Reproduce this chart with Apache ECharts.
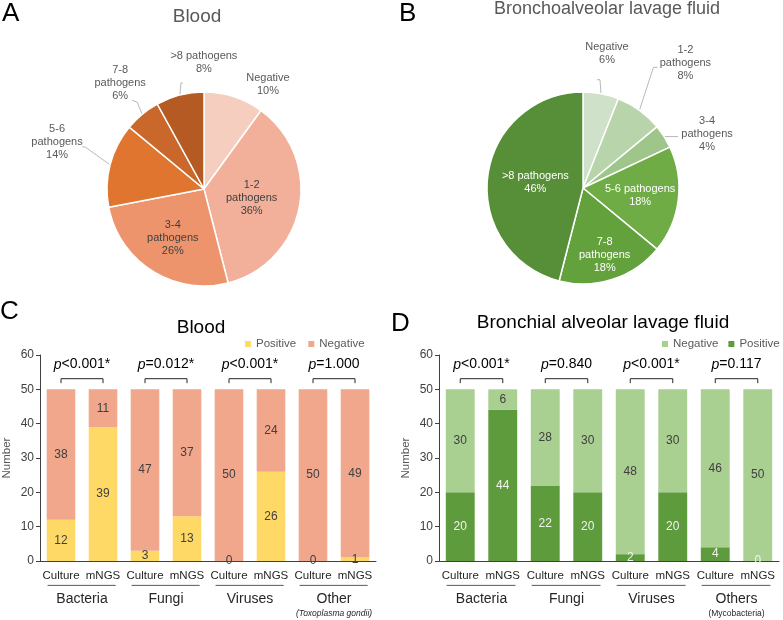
<!DOCTYPE html>
<html><head><meta charset="utf-8">
<script src="https://cdn.jsdelivr.net/npm/echarts@6/dist/echarts.min.js"></script>
<style>html,body{margin:0;padding:0;background:#fff}#c{width:783px;height:620px}</style>
</head><body><div id="c"></div>
<script>
// ---------- DATA ----------
const pieALabels = ['Negative', '1-2\npathogens', '3-4\npathogens', '5-6\npathogens', '7-8\npathogens', '>8 pathogens'];
const pieAValues = [10, 36, 26, 14, 6, 8];
const pieBLabels = ['Negative', '1-2\npathogens', '3-4\npathogens', '5-6 pathogens', '7-8\npathogens', '>8 pathogens'];
const pieBValues = [6, 8, 4, 18, 18, 46];

const barCategories = ['Culture', 'mNGS', 'Culture', 'mNGS', 'Culture', 'mNGS', 'Culture', 'mNGS'];
const bloodGroups = ['Bacteria', 'Fungi', 'Viruses', 'Other'];
const balfGroups = ['Bacteria', 'Fungi', 'Viruses', 'Others'];
const bloodPositive = [12, 39, 3, 13, 0, 26, 0, 1];
const bloodNegative = [38, 11, 47, 37, 50, 24, 50, 49];
const balfPositive = [20, 44, 22, 20, 2, 20, 4, 0];
const balfNegative = [30, 6, 28, 30, 48, 30, 46, 50];
const bloodP = ['<0.001*', '=0.012*', '<0.001*', '=1.000'];
const balfP = ['<0.001*', '=0.840', '<0.001*', '=0.117'];
const yTicks = [0, 10, 20, 30, 40, 50, 60];

// ---------- STYLE / LAYOUT ----------
const pieAColors = ['#F5CEC0', '#F2B09A', '#EE946C', '#E0752F', '#CA682B', '#B55A22'];
const pieBColors = ['#CFE1C8', '#B8D4AB', '#9FC68A', '#6FAC45', '#63A13D', '#568F37'];
// label placement: inside -> radial fraction; outside -> offset of label centre from slice edge + leader line
const pieALabelPlace = [
  {out: [34, -12], line: null},
  {inner: 0.5},
  {inner: 0.6},
  {out: [-53, -23], line: [[-25, -18], [-28, -18]]},
  {out: [-22, -31], line: [[-5, -12], [-10, -14]]},
  {out: [24, -33], line: [[1, -12], [3, -12]]}
];
const pieBLabelPlace = [
  {out: [6, -40], line: [[-1, -14], [-4, -14]]},
  {out: [46, -47], line: [[14, -43], [18, -43]]},
  {out: [43, -3], line: [[8, 0], [14, 0]]},
  {inner: 0.6},
  {inner: 0.73},
  {inner: 0.5}
];
const FONT = '"Liberation Sans", Arial, sans-serif';

const chart = echarts.init(document.getElementById('c'), null, {renderer: 'canvas'});

function pieSeries(center, R, labels, values, colors, place, insideColor) {
  const total = values.reduce((s, v) => s + v, 0);
  let cum = 0;
  const mids = values.map(v => { const a = (cum + v / 2) / total * 2 * Math.PI; cum += v; return a; });
  return {
    type: 'pie', center: center, radius: R, startAngle: 90, clockwise: true,
    avoidLabelOverlap: false, silent: true,
    itemStyle: {borderColor: '#fff', borderWidth: 1.5},
    label: {formatter: '{b}\n{c}%', fontSize: 11, lineHeight: 13, color: '#595959', fontFamily: FONT, align: 'center'},
    labelLine: {length: 8, length2: 4, lineStyle: {color: '#a6a6a6', width: 0.8}},
    labelLayout: function (p) {
      const i = p.dataIndex, a = mids[i], pl = place[i];
      const sx = Math.sin(a), sy = -Math.cos(a);
      if (pl.inner) {
        const d = pl.inner * R;
        return {x: center[0] + d * sx, y: center[1] + d * sy, align: 'center', verticalAlign: 'middle', hideOverlap: false};
      }
      const ex = center[0] + R * sx, ey = center[1] + R * sy;
      const res = {x: ex + pl.out[0], y: ey + pl.out[1], align: 'center', verticalAlign: 'middle', hideOverlap: false};
      if (pl.line) res.labelLinePoints = [[ex, ey], [ex + pl.line[0][0], ey + pl.line[0][1]], [ex + pl.line[1][0], ey + pl.line[1][1]]];
      return res;
    },
    data: labels.map((n, i) => ({
      name: n, value: values[i],
      itemStyle: {color: colors[i]},
      label: place[i].inner ? {position: 'inside', color: insideColor} : {position: 'outside'},
      labelLine: {show: !!place[i].line}
    }))
  };
}

function bracketSeries(gi, pvals) {
  return {
    type: 'custom', xAxisIndex: gi * 2, yAxisIndex: gi, silent: true, z: 5,
    data: pvals.map((p, i) => [i, 0]),
    renderItem: function (params, api) {
      const g = api.value(0);
      const x1 = api.coord([2 * g, 0])[0];
      const x2 = api.coord([2 * g + 1, 0])[0];
      const yTop = api.coord([0, 53.1])[1];
      const yEnd = api.coord([0, 51.8])[1];
      const yText = api.coord([0, 57.2])[1];
      const yUnder = api.coord([0, -7.1])[1];
      const band = api.size([1, 0])[0];
      return {
        type: 'group',
        children: [
          {type: 'polyline', shape: {points: [[x1, yEnd], [x1, yTop], [x2, yTop], [x2, yEnd]]},
           style: {stroke: '#262626', lineWidth: 1, fill: null}},
          {type: 'line', shape: {x1: x1 - band * 0.32, y1: yUnder, x2: x2 + band * 0.3, y2: yUnder},
           style: {stroke: '#595959', lineWidth: 1}},
          {type: 'text', x: (x1 + x2) / 2, y: yText,
           style: {text: '{i|p}{n|' + pvals[g] + '}', align: 'center', verticalAlign: 'middle',
             rich: {i: {fontStyle: 'italic', fontSize: 14, fontFamily: FONT, fill: '#000'},
                    n: {fontSize: 14, fontFamily: FONT, fill: '#000'}}}}
        ]
      };
    }
  };
}

function yAxisCfg(gi) {
  return {
    type: 'value', gridIndex: gi, min: yTicks[0], max: yTicks[yTicks.length - 1], interval: 10,
    name: 'Number', nameLocation: 'middle', nameGap: 27,
    nameTextStyle: {color: '#595959', fontSize: 11.5, fontFamily: FONT},
    axisLine: {show: true, lineStyle: {color: '#404040', width: 1}},
    axisTick: {show: true, length: 4, lineStyle: {color: '#404040'}},
    axisLabel: {color: '#404040', fontSize: 12, margin: 6, fontFamily: FONT},
    splitLine: {show: false}
  };
}
function catAxisCfg(gi) {
  return {
    type: 'category', gridIndex: gi, data: barCategories, position: 'bottom',
    axisLine: {lineStyle: {color: '#404040', width: 1}},
    axisTick: {show: false},
    axisLabel: {color: '#262626', fontSize: 11.5, margin: 9, fontFamily: FONT, interval: 0}
  };
}
function groupAxisCfg(gi, groups, sub, subItalic) {
  return {
    type: 'category', gridIndex: gi, data: groups, position: 'bottom', offset: 23,
    axisLine: {show: false}, axisTick: {show: false},
    axisLabel: {
      interval: 0, margin: 8, color: '#262626', fontSize: 14, fontFamily: FONT, lineHeight: 15,
      formatter: v => v === groups[3] ? v + '\n{s|' + sub + '}' : v,
      rich: {s: {fontSize: 8.5, lineHeight: 13, color: '#262626', fontStyle: subItalic ? 'italic' : 'normal', fontFamily: FONT}}
    }
  };
}
function barLabel(color) {
  return {show: true, position: 'inside', color: color, fontSize: 12, fontFamily: FONT, formatter: '{c}'};
}

const option = {
  backgroundColor: '#fff',
  animation: false,
  textStyle: {fontFamily: FONT},
  graphic: [
    {type: 'text', left: 2, top: 1, style: {text: 'A', fontSize: 26, fill: '#000', fontFamily: FONT}},
    {type: 'text', left: 399, top: 1, style: {text: 'B', fontSize: 26, fill: '#000', fontFamily: FONT}},
    {type: 'text', left: 0, top: 299, style: {text: 'C', fontSize: 26, fill: '#000', fontFamily: FONT}},
    {type: 'text', left: 391, top: 311, style: {text: 'D', fontSize: 26, fill: '#000', fontFamily: FONT}},
    {type: 'text', x: 197, y: 17, style: {text: 'Blood', fontSize: 19, fill: '#595959', align: 'center', verticalAlign: 'middle', fontFamily: FONT}},
    {type: 'text', x: 607, y: 9, style: {text: 'Bronchoalveolar lavage fluid', fontSize: 18, fill: '#595959', align: 'center', verticalAlign: 'middle', fontFamily: FONT}},
    {type: 'text', x: 201, y: 328, style: {text: 'Blood', fontSize: 19, fill: '#000', align: 'center', verticalAlign: 'middle', fontFamily: FONT}},
    {type: 'text', x: 603, y: 323, style: {text: 'Bronchial alveolar lavage fluid', fontSize: 19, fill: '#000', align: 'center', verticalAlign: 'middle', fontFamily: FONT}}
  ],
  legend: [
    {data: ['Positive', 'Negative'], left: 245, top: 338, icon: 'rect', itemWidth: 6, itemHeight: 6, itemGap: 12, padding: 0,
     textStyle: {fontSize: 11.5, color: '#595959', fontFamily: FONT}, selectedMode: false},
    {data: ['balNeg', 'balPos'], left: 662, top: 338, icon: 'rect', itemWidth: 6, itemHeight: 6, itemGap: 10, padding: 0,
     formatter: n => n === 'balNeg' ? 'Negative' : 'Positive',
     textStyle: {fontSize: 11.5, color: '#595959', fontFamily: FONT}, selectedMode: false}
  ],
  grid: [
    {left: 36, top: 355, width: 340, height: 210},
    {left: 439, top: 355, width: 340, height: 210}
  ],
  xAxis: [catAxisCfg(0), groupAxisCfg(0, bloodGroups, '(Toxoplasma gondii)', true),
          catAxisCfg(1), groupAxisCfg(1, balfGroups, '(Mycobacteria)', false)],
  yAxis: [yAxisCfg(0), yAxisCfg(1)],
  series: [
    pieSeries([204, 189], 97, pieALabels, pieAValues, pieAColors, pieALabelPlace, '#404040'),
    pieSeries([583, 188], 96, pieBLabels, pieBValues, pieBColors, pieBLabelPlace, '#ffffff'),
    {name: 'Positive', type: 'bar', stack: 'blood', xAxisIndex: 0, yAxisIndex: 0, barWidth: '68%',
     itemStyle: {color: '#FFD966'}, label: barLabel('#404040'), data: bloodPositive},
    {name: 'Negative', type: 'bar', stack: 'blood', xAxisIndex: 0, yAxisIndex: 0, barWidth: '68%',
     itemStyle: {color: '#F0A78C'}, label: barLabel('#404040'), data: bloodNegative},
    {name: 'balPos', type: 'bar', stack: 'balf', xAxisIndex: 2, yAxisIndex: 1, barWidth: '68%',
     itemStyle: {color: '#5E9B3D'}, label: barLabel('#F2F2F2'), data: balfPositive},
    {name: 'balNeg', type: 'bar', stack: 'balf', xAxisIndex: 2, yAxisIndex: 1, barWidth: '68%',
     itemStyle: {color: '#A9CF91'}, label: barLabel('#404040'), data: balfNegative},
    bracketSeries(0, bloodP),
    bracketSeries(1, balfP)
  ]
};
chart.setOption(option);
</script></body></html>
